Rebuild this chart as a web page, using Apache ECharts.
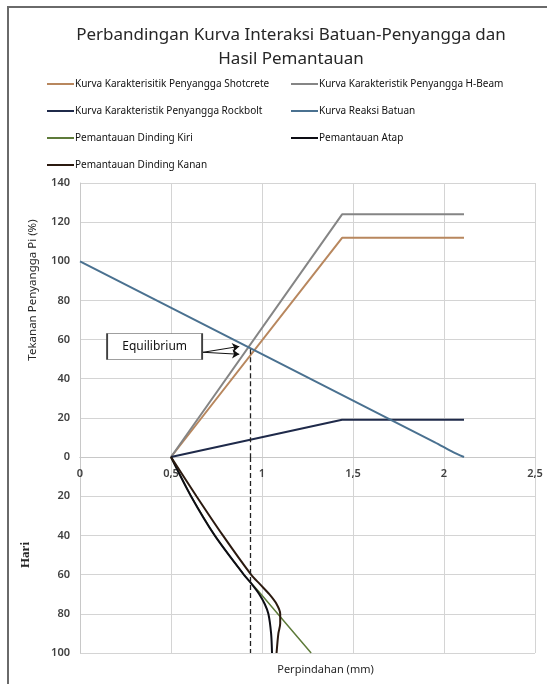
<!DOCTYPE html>
<html>
<head>
<meta charset="utf-8">
<script src="https://cdn.jsdelivr.net/npm/echarts@6/dist/echarts.min.js"></script>
<style>
  html, body { margin: 0; padding: 0; background: #fff; }
  #chart { width: 552px; height: 684px; }
</style>
</head>
<body>
<div id="chart"></div>
<script>
// Kurva karakteristik penyangga (perpindahan mm, tekanan %)
var xPenyangga = [0.5, 1.44, 2.11];
var shotcrete = [0, 112, 112];
var hBeam = [0, 124, 124];
var rockbolt = [0, 19, 19];

// Kurva reaksi batuan
var xBatuan = [0, 1.95, 2.05, 2.11];
var reaksiBatuan = [100, 7.5, 2.5, 0];

// Hasil pemantauan (hari vs perpindahan mm)
var hariKiri = [0, 20, 40, 60, 70, 100];
var dindingKiri = [0.5, 0.61, 0.74, 0.9, 0.995, 1.27];
var hariAtap = [0, 20, 40, 60, 65, 70, 75, 80, 90, 100];
var atap = [0.5, 0.61, 0.74, 0.9, 0.945, 0.985, 1.015, 1.035, 1.05, 1.055];
var hariKanan = [0, 20, 40, 60, 65, 70, 75, 80, 85, 90, 100];
var dindingKanan = [0.5, 0.64, 0.785, 0.94, 0.99, 1.04, 1.08, 1.1, 1.1, 1.09, 1.08];

// titik keseimbangan
var eqX = 0.935;
var eqY = 55;

function pasang(xs, ys) {
    var out = [];
    for (var i = 0; i < xs.length; i++) out.push([xs[i], ys[i]]);
    return out;
}

var myChart = echarts.init(document.getElementById('chart'));

var labelStyle = { color: '#404040', fontSize: 11, fontWeight: 600, fontFamily: 'Noto Sans' };
var gridLine = { lineStyle: { color: '#d4d4d4', width: 1 } };
var axisLine = { show: true, lineStyle: { color: '#c8c8c8', width: 1 } };
var legendText = { fontFamily: 'Noto Sans', fontSize: 10, color: '#111', lineHeight: 14, padding: [0, 0, 0, -4] };

var option = {
    backgroundColor: '#fff',
    animation: false,
    title: {
        text: 'Perbandingan Kurva Interaksi Batuan-Penyangga dan\nHasil Pemantauan',
        left: 286,
        textAlign: 'center',
        top: 18,
        textStyle: { fontFamily: 'Noto Sans', fontSize: 17, fontWeight: 'normal', color: '#262626', lineHeight: 24 }
    },
    legend: [{
        orient: 'vertical',
        left: 42, top: 72,
        itemGap: 13,
        icon: 'rect', itemWidth: 27, itemHeight: 2,
        textStyle: legendText,
        data: ['Kurva Karakterisitik Penyangga Shotcrete', 'Kurva Karakteristik Penyangga Rockbolt',
               'Pemantauan Dinding Kiri', 'Pemantauan Dinding Kanan']
    }, {
        orient: 'vertical',
        left: 286, top: 72,
        itemGap: 13,
        icon: 'rect', itemWidth: 27, itemHeight: 2,
        textStyle: legendText,
        data: ['Kurva Karakteristik Penyangga H-Beam', 'Kurva Reaksi Batuan', 'Pemantauan Atap']
    }],
    grid: [
        { left: 80, right: 17, top: 183, height: 274 },
        { left: 80, right: 17, top: 457, height: 196 }
    ],
    xAxis: [{
        gridIndex: 0, type: 'value', min: 0, max: 2.5, interval: 0.5,
        axisLine: axisLine, axisTick: { show: false }, splitLine: gridLine,
        axisLabel: Object.assign({ margin: 11, formatter: function (v) { return String(v).replace('.', ','); } }, labelStyle)
    }, {
        gridIndex: 1, type: 'value', min: 0, max: 2.5, interval: 0.5,
        axisLine: axisLine, axisTick: { show: false }, splitLine: gridLine,
        axisLabel: { show: false },
        name: 'Perpindahan (mm)', nameLocation: 'middle', nameGap: 11,
        nameTextStyle: { fontFamily: 'Noto Sans', fontSize: 11, color: '#262626', padding: [0, 0, 0, 36] }
    }],
    yAxis: [{
        gridIndex: 0, type: 'value', min: 0, max: 140, interval: 20,
        axisLine: axisLine, axisTick: { show: false }, splitLine: gridLine,
        axisLabel: Object.assign({ margin: 10 }, labelStyle)
    }, {
        gridIndex: 1, type: 'value', min: 0, max: 100, interval: 20, inverse: true,
        axisLine: axisLine, axisTick: { show: false }, splitLine: gridLine,
        axisLabel: Object.assign({ margin: 10, formatter: function (v) { return v === 0 ? '' : v; } }, labelStyle),
        name: 'Hari', nameLocation: 'middle', nameGap: 48, nameRotate: 90,
        nameTextStyle: { fontFamily: 'Liberation Serif', fontSize: 13, fontWeight: 'bold', color: '#262626' }
    }],
    graphic: [{
        type: 'polyline', shape: { points: [[8, 700], [8, 7], [547, 7]] }, silent: true,
        style: { fill: 'none', stroke: '#6a6a6a', lineWidth: 2 }
    }, {
        type: 'text', x: 33, y: 290, rotation: Math.PI / 2, silent: true,
        style: { text: 'Tekanan Penyangga Pi (%)', fontFamily: 'Noto Sans', fontSize: 11.5, fill: '#262626',
                 align: 'center', verticalAlign: 'middle' }
    }],
    series: [{
        name: 'Kurva Karakterisitik Penyangga Shotcrete', type: 'line', xAxisIndex: 0, yAxisIndex: 0,
        data: pasang(xPenyangga, shotcrete), showSymbol: false, color: '#b8875e',
        lineStyle: { color: '#b8875e', width: 2 }
    }, {
        name: 'Kurva Karakteristik Penyangga H-Beam', type: 'line', xAxisIndex: 0, yAxisIndex: 0,
        data: pasang(xPenyangga, hBeam), showSymbol: false, color: '#858585',
        lineStyle: { color: '#858585', width: 2 },
        markLine: {
            silent: true, symbol: ['none', 'none'], label: { show: false },
            lineStyle: { color: '#111', width: 1, type: 'solid' },
            data: [
                [{ coord: [0.676, 53.5] }, { coord: [0.875, 56.5], symbol: 'arrow', symbolSize: 7 }],
                [{ coord: [0.676, 53.5] }, { coord: [0.875, 52.5], symbol: 'arrow', symbolSize: 7 }]
            ]
        },
        markPoint: {
            silent: true, symbol: 'rect', symbolSize: [95, 26],
            itemStyle: { color: '#fff', borderColor: '#404040', borderWidth: 1 },
            label: { show: true, position: 'inside', formatter: 'Equilibrium', color: '#111',
                     fontFamily: 'Noto Sans', fontSize: 12 },
            data: [{ coord: [0.41, 56.5] }]
        }
    }, {
        name: 'Kurva Karakteristik Penyangga Rockbolt', type: 'line', xAxisIndex: 0, yAxisIndex: 0,
        data: pasang(xPenyangga, rockbolt), showSymbol: false, color: '#1f2a4a',
        lineStyle: { color: '#1f2a4a', width: 2 }
    }, {
        name: 'Kurva Reaksi Batuan', type: 'line', xAxisIndex: 0, yAxisIndex: 0,
        data: pasang(xBatuan, reaksiBatuan), showSymbol: false, smooth: 0.2, color: '#4a7190',
        lineStyle: { color: '#4a7190', width: 2 },
        markLine: {
            silent: true, symbol: ['none', 'none'], label: { show: false },
            lineStyle: { color: '#222', width: 1.3, type: [5, 3] },
            data: [[{ coord: [eqX, eqY] }, { coord: [eqX, 0] }]]
        }
    }, {
        name: 'Pemantauan Dinding Kiri', type: 'line', xAxisIndex: 1, yAxisIndex: 1,
        data: pasang(dindingKiri, hariKiri), showSymbol: false, smooth: 0.15,
        color: '#5e7b3a', lineStyle: { color: '#5e7b3a', width: 1.5 },
        markLine: {
            silent: true, symbol: ['none', 'none'], label: { show: false },
            lineStyle: { color: '#222', width: 1.3, type: [5, 3] },
            data: [[{ coord: [eqX, 0] }, { coord: [eqX, 100] }]]
        }
    }, {
        name: 'Pemantauan Atap', type: 'line', xAxisIndex: 1, yAxisIndex: 1,
        data: pasang(atap, hariAtap), showSymbol: false, smooth: 0.3,
        color: '#0d0d14', lineStyle: { color: '#0d0d14', width: 2 }
    }, {
        name: 'Pemantauan Dinding Kanan', type: 'line', xAxisIndex: 1, yAxisIndex: 1,
        data: pasang(dindingKanan, hariKanan), showSymbol: false, smooth: 0.3,
        color: '#2b1a10', lineStyle: { color: '#2b1a10', width: 2 }
    }]
};
myChart.setOption(option);
</script>
</body>
</html>
